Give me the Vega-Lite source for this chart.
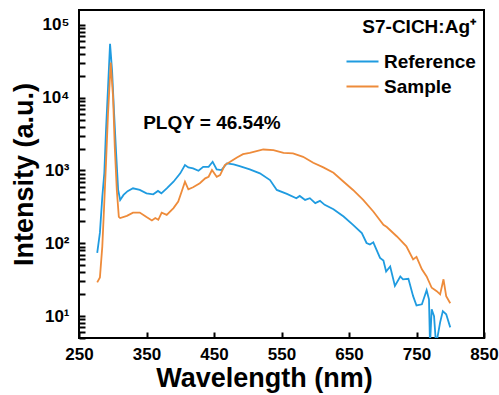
{
  "$schema": "https://vega.github.io/schema/vega-lite/v6.json",
  "width": 405,
  "height": 328,
  "autosize": {"type": "none"},
  "padding": {"left": 79, "top": 10, "right": 15, "bottom": 57},
  "background": "white",
  "config": {
    "view": {"stroke": "black", "strokeWidth": 2},
    "font": "Liberation Sans",
    "axis": {
      "grid": false,
      "domain": false,
      "ticks": true,
      "tickColor": "black",
      "tickOpacity": 1,
      "tickWidth": 2,
      "labelFont": "Liberation Sans",
      "labelFontWeight": "bold",
      "labelFontSize": 17,
      "labelColor": "black",
      "titleFont": "Liberation Sans",
      "titleFontWeight": "bold",
      "titleFontSize": 27,
      "titleColor": "black"
    }
  },
  "layer": [
    {
      "data": {
        "values": [
          {"wl": 277, "I": 74, "s": "Reference"},
          {"wl": 281, "I": 140, "s": "Reference"},
          {"wl": 284.5, "I": 433, "s": "Reference"},
          {"wl": 287.5, "I": 920, "s": "Reference"},
          {"wl": 290, "I": 3560, "s": "Reference"},
          {"wl": 293, "I": 13800, "s": "Reference"},
          {"wl": 296, "I": 55000, "s": "Reference"},
          {"wl": 299, "I": 23500, "s": "Reference"},
          {"wl": 302, "I": 6080, "s": "Reference"},
          {"wl": 305, "I": 1730, "s": "Reference"},
          {"wl": 308, "I": 540, "s": "Reference"},
          {"wl": 311, "I": 394, "s": "Reference"},
          {"wl": 316, "I": 462, "s": "Reference"},
          {"wl": 322, "I": 520, "s": "Reference"},
          {"wl": 330, "I": 569, "s": "Reference"},
          {"wl": 340, "I": 540, "s": "Reference"},
          {"wl": 350, "I": 486, "s": "Reference"},
          {"wl": 360, "I": 471, "s": "Reference"},
          {"wl": 367, "I": 523, "s": "Reference"},
          {"wl": 372, "I": 486, "s": "Reference"},
          {"wl": 380, "I": 569, "s": "Reference"},
          {"wl": 390, "I": 701, "s": "Reference"},
          {"wl": 400, "I": 913, "s": "Reference"},
          {"wl": 407, "I": 1186, "s": "Reference"},
          {"wl": 412, "I": 1102, "s": "Reference"},
          {"wl": 419, "I": 1069, "s": "Reference"},
          {"wl": 427, "I": 991, "s": "Reference"},
          {"wl": 434, "I": 1124, "s": "Reference"},
          {"wl": 442, "I": 1124, "s": "Reference"},
          {"wl": 448, "I": 1316, "s": "Reference"},
          {"wl": 454, "I": 1035, "s": "Reference"},
          {"wl": 461, "I": 1012, "s": "Reference"},
          {"wl": 469, "I": 1250, "s": "Reference"},
          {"wl": 479, "I": 1211, "s": "Reference"},
          {"wl": 488, "I": 1148, "s": "Reference"},
          {"wl": 503, "I": 1035, "s": "Reference"},
          {"wl": 518, "I": 913, "s": "Reference"},
          {"wl": 533, "I": 739, "s": "Reference"},
          {"wl": 543, "I": 540, "s": "Reference"},
          {"wl": 558, "I": 476, "s": "Reference"},
          {"wl": 572, "I": 416, "s": "Reference"},
          {"wl": 577, "I": 447, "s": "Reference"},
          {"wl": 585, "I": 394, "s": "Reference"},
          {"wl": 592, "I": 416, "s": "Reference"},
          {"wl": 600, "I": 356, "s": "Reference"},
          {"wl": 607, "I": 382, "s": "Reference"},
          {"wl": 614, "I": 337, "s": "Reference"},
          {"wl": 627, "I": 294, "s": "Reference"},
          {"wl": 642, "I": 233, "s": "Reference"},
          {"wl": 656, "I": 179, "s": "Reference"},
          {"wl": 669, "I": 138, "s": "Reference"},
          {"wl": 676, "I": 101, "s": "Reference"},
          {"wl": 681, "I": 96, "s": "Reference"},
          {"wl": 686, "I": 103, "s": "Reference"},
          {"wl": 696, "I": 63, "s": "Reference"},
          {"wl": 701, "I": 58, "s": "Reference"},
          {"wl": 705, "I": 41, "s": "Reference"},
          {"wl": 711, "I": 48, "s": "Reference"},
          {"wl": 718, "I": 26, "s": "Reference"},
          {"wl": 726, "I": 35, "s": "Reference"},
          {"wl": 730, "I": 32, "s": "Reference"},
          {"wl": 738, "I": 32.5, "s": "Reference"},
          {"wl": 745, "I": 18.8, "s": "Reference"},
          {"wl": 750, "I": 14, "s": "Reference"},
          {"wl": 758, "I": 14.5, "s": "Reference"},
          {"wl": 763, "I": 19.9, "s": "Reference"},
          {"wl": 765, "I": 22.7, "s": "Reference"},
          {"wl": 768.5, "I": 17, "s": "Reference"},
          {"wl": 770, "I": 4, "s": "Reference"},
          {"wl": 772.5, "I": 12.4, "s": "Reference"},
          {"wl": 776, "I": 10, "s": "Reference"},
          {"wl": 779, "I": 4, "s": "Reference"},
          {"wl": 785, "I": 8.2, "s": "Reference"},
          {"wl": 789, "I": 11.7, "s": "Reference"},
          {"wl": 794, "I": 10.6, "s": "Reference"},
          {"wl": 800, "I": 7, "s": "Reference"},
          {"wl": 277, "I": 29, "s": "Sample"},
          {"wl": 281, "I": 34, "s": "Sample"},
          {"wl": 284.5, "I": 90, "s": "Sample"},
          {"wl": 287, "I": 288, "s": "Sample"},
          {"wl": 290, "I": 1260, "s": "Sample"},
          {"wl": 293, "I": 6080, "s": "Sample"},
          {"wl": 297, "I": 30300, "s": "Sample"},
          {"wl": 300.5, "I": 10100, "s": "Sample"},
          {"wl": 303, "I": 2090, "s": "Sample"},
          {"wl": 306, "I": 540, "s": "Sample"},
          {"wl": 309, "I": 231, "s": "Sample"},
          {"wl": 311, "I": 222, "s": "Sample"},
          {"wl": 321, "I": 238, "s": "Sample"},
          {"wl": 330, "I": 264, "s": "Sample"},
          {"wl": 340, "I": 264, "s": "Sample"},
          {"wl": 350, "I": 229, "s": "Sample"},
          {"wl": 358, "I": 206, "s": "Sample"},
          {"wl": 363, "I": 222, "s": "Sample"},
          {"wl": 367.5, "I": 210, "s": "Sample"},
          {"wl": 372.5, "I": 264, "s": "Sample"},
          {"wl": 380, "I": 246, "s": "Sample"},
          {"wl": 390, "I": 304, "s": "Sample"},
          {"wl": 397, "I": 374, "s": "Sample"},
          {"wl": 402, "I": 511, "s": "Sample"},
          {"wl": 407, "I": 701, "s": "Sample"},
          {"wl": 412, "I": 552, "s": "Sample"},
          {"wl": 419, "I": 588, "s": "Sample"},
          {"wl": 429, "I": 667, "s": "Sample"},
          {"wl": 437, "I": 780, "s": "Sample"},
          {"wl": 442, "I": 820, "s": "Sample"},
          {"wl": 447, "I": 1012, "s": "Sample"},
          {"wl": 454, "I": 820, "s": "Sample"},
          {"wl": 459, "I": 865, "s": "Sample"},
          {"wl": 466, "I": 1186, "s": "Sample"},
          {"wl": 474, "I": 1316, "s": "Sample"},
          {"wl": 484, "I": 1511, "s": "Sample"},
          {"wl": 493, "I": 1675, "s": "Sample"},
          {"wl": 503, "I": 1746, "s": "Sample"},
          {"wl": 523, "I": 1942, "s": "Sample"},
          {"wl": 538, "I": 1901, "s": "Sample"},
          {"wl": 553, "I": 1746, "s": "Sample"},
          {"wl": 567, "I": 1714, "s": "Sample"},
          {"wl": 582, "I": 1540, "s": "Sample"},
          {"wl": 597, "I": 1274, "s": "Sample"},
          {"wl": 612, "I": 1102, "s": "Sample"},
          {"wl": 627, "I": 930, "s": "Sample"},
          {"wl": 642, "I": 701, "s": "Sample"},
          {"wl": 656, "I": 540, "s": "Sample"},
          {"wl": 671, "I": 394, "s": "Sample"},
          {"wl": 686, "I": 273, "s": "Sample"},
          {"wl": 701, "I": 179, "s": "Sample"},
          {"wl": 706, "I": 167, "s": "Sample"},
          {"wl": 721, "I": 124, "s": "Sample"},
          {"wl": 735, "I": 91, "s": "Sample"},
          {"wl": 745, "I": 60, "s": "Sample"},
          {"wl": 750, "I": 65, "s": "Sample"},
          {"wl": 758, "I": 44, "s": "Sample"},
          {"wl": 765, "I": 35, "s": "Sample"},
          {"wl": 772.5, "I": 24.5, "s": "Sample"},
          {"wl": 780, "I": 22, "s": "Sample"},
          {"wl": 785, "I": 19.9, "s": "Sample"},
          {"wl": 790, "I": 32, "s": "Sample"},
          {"wl": 794, "I": 18.8, "s": "Sample"},
          {"wl": 800, "I": 15, "s": "Sample"}
        ]
      },
      "mark": {"type": "line", "clip": true, "strokeWidth": 1.8},
      "encoding": {
        "x": {
          "field": "wl",
          "type": "quantitative",
          "scale": {"domain": [250, 850], "nice": false, "zero": false},
          "axis": {
            "title": "Wavelength (nm)",
            "values": [250, 300, 350, 400, 450, 500, 550, 600, 650, 700, 750, 800, 850],
            "labelExpr": "datum.value % 100 == 50 ? datum.label : ''",
            "offset": -6,
            "tickSize": 6,
            "labelPadding": 8,
            "labelFlush": false,
            "titleX": 185,
            "titleY": 54,
            "titleAlign": "center",
            "titleBaseline": "alphabetic"
          }
        },
        "y": {
          "field": "I",
          "type": "quantitative",
          "scale": {"type": "log", "domain": [5, 160000], "nice": false},
          "axis": {
            "title": "Intensity (a.u.)",
            "values": [5, 6, 7, 8, 9, 10, 20, 30, 40, 50, 60, 70, 80, 90, 100, 200, 300, 400, 500, 600, 700, 800, 900, 1000, 2000, 3000, 4000, 5000, 6000, 7000, 8000, 9000, 10000, 20000, 30000, 40000, 50000, 60000, 70000, 80000, 90000, 100000],
            "labelExpr": "datum.value == 10 ? '10¹' : datum.value == 100 ? '10²' : datum.value == 1000 ? '10³' : datum.value == 10000 ? '10⁴' : datum.value == 100000 ? '10⁵' : ''",
            "offset": -6,
            "tickSize": 6,
            "labelPadding": 10,
            "titleX": -53,
            "titleY": 164,
            "titleAngle": -90,
            "titleAlign": "center",
            "titleBaseline": "alphabetic"
          }
        },
        "color": {
          "field": "s",
          "type": "nominal",
          "scale": {"domain": ["Reference", "Sample"], "range": ["#1f9be0", "#ee8b3a"]},
          "legend": {
            "title": "S7-CICH:Ag⁺",
            "orient": "none",
            "legendX": 274,
            "legendY": 8,
            "symbolType": "M-4,0H4",
            "symbolSize": 64,
            "symbolStrokeWidth": 2,
            "labelOffset": 12,
            "titleAnchor": "end",
            "titleAlign": "right",
            "titleFont": "Liberation Sans",
            "titleFontSize": 19,
            "titleFontWeight": "bold",
            "titleColor": "black",
            "titlePadding": 15,
            "labelFont": "Liberation Sans",
            "labelFontSize": 19,
            "labelFontWeight": "bold",
            "labelColor": "black",
            "rowPadding": 5,
            "padding": 0
          }
        }
      }
    },
    {
      "data": {"values": [{"wl": 345, "I": 4450, "label": "PLQY = 46.54%"}]},
      "mark": {"type": "text", "align": "left", "baseline": "middle", "fontSize": 19, "fontWeight": "bold", "font": "Liberation Sans", "color": "black"},
      "encoding": {
        "x": {"field": "wl", "type": "quantitative"},
        "y": {"field": "I", "type": "quantitative"},
        "text": {"field": "label"}
      }
    }
  ]
}
